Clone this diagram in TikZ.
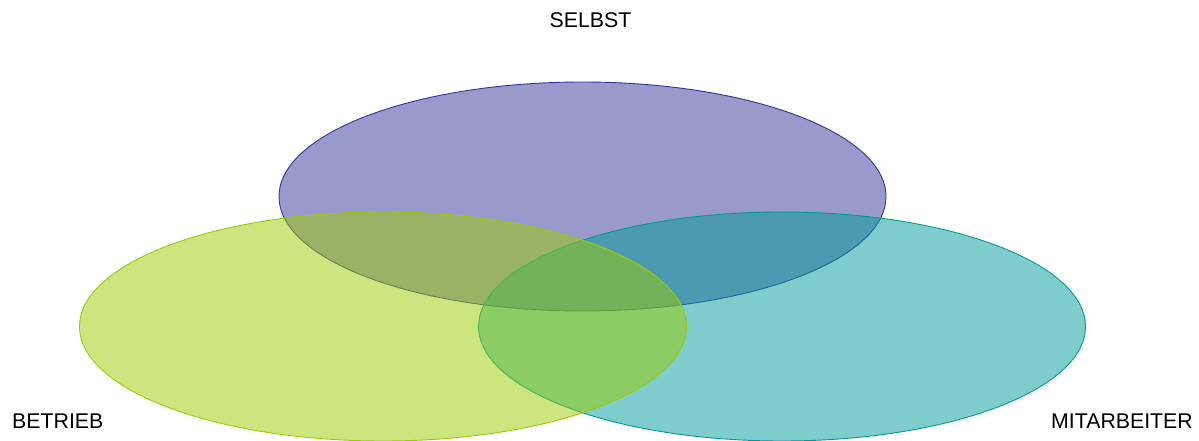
\documentclass[tikz,border=0pt]{standalone}
\usepackage{fontspec}
\setmainfont{Liberation Sans}
\usetikzlibrary{shapes.geometric}
\definecolor{cTop}{HTML}{333399}
\definecolor{cLeft}{HTML}{99CC00}
\definecolor{cRight}{HTML}{009999}
\tikzset{
  venn/.style={ellipse, inner sep=0pt, minimum width=607pt, minimum height=229pt, line width=0.9pt, fill opacity=0.5, draw opacity=1},
  lbl/.style={font=\fontsize{21.3}{25}\selectfont, inner sep=0pt, text=black}
}
\begin{document}
\begin{tikzpicture}[x=1pt,y=-1pt]
\useasboundingbox (0,0) rectangle (1199,441);
\node[venn, draw=cTop, fill=cTop] (selbst) at (582.5,196.5) {};
\node[venn, draw=cRight, fill=cRight] (mitarbeiter) at (782,326.5) {};
\node[venn, draw=cLeft, fill=cLeft] (betrieb) at (383,326.5) {};
\node[lbl, anchor=base] (tSelbst) at (590.5,28) {SELBST};
\node[lbl, anchor=base west] (tBetrieb) at (12,428) {BETRIEB};
\node[lbl, anchor=base east] (tMit) at (1193,428) {MITARBEITER};
\end{tikzpicture}
\end{document}
